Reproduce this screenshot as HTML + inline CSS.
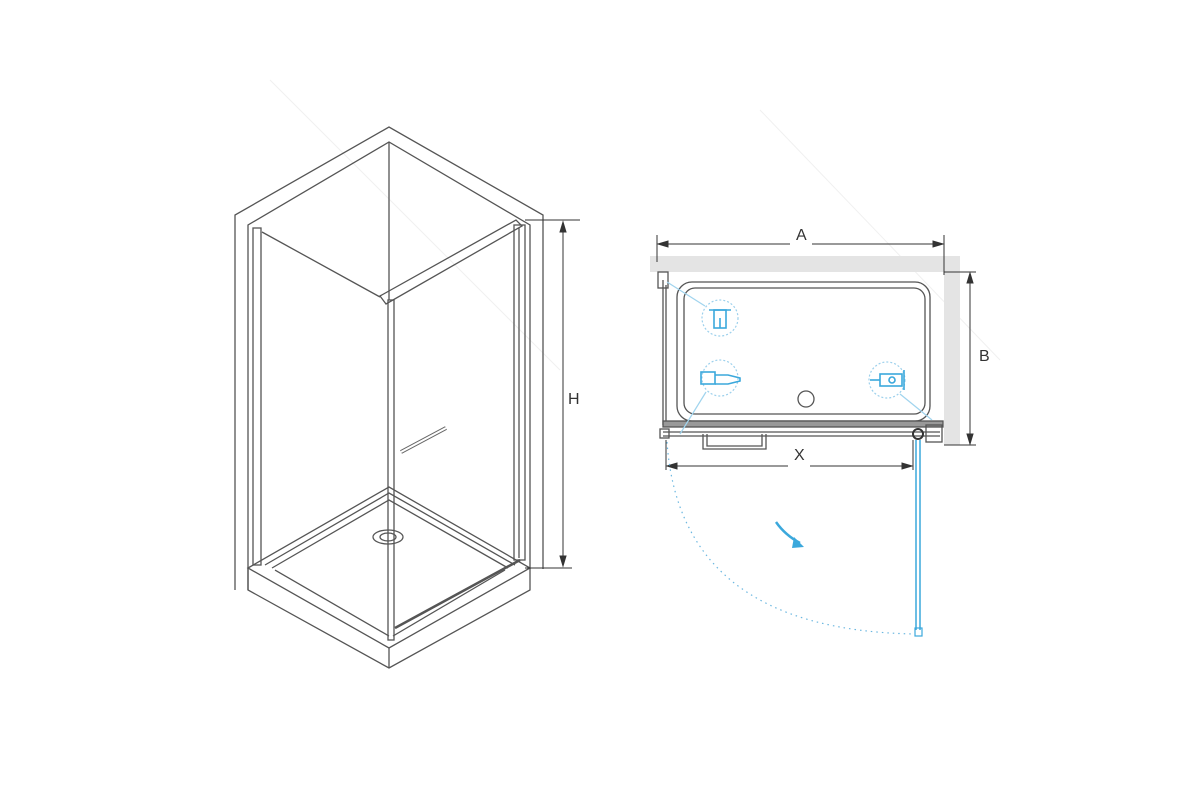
<!DOCTYPE html>
<html><head><meta charset="utf-8"><style>
html,body{margin:0;padding:0;background:#fff;width:1200px;height:800px;overflow:hidden}
svg{display:block}
text{font-family:"Liberation Sans",sans-serif;fill:#333}
</style></head><body>
<svg width="1200" height="800" viewBox="0 0 1200 800" xmlns="http://www.w3.org/2000/svg">
<g stroke="#f0f0f0" stroke-width="1" fill="none">
<line x1="270" y1="80" x2="560" y2="370"/><line x1="760" y1="110" x2="1000" y2="360"/>
</g>
<!-- LEFT ISOMETRIC -->
<g fill="none" stroke="#555" stroke-width="1.3">
<!-- walls -->
<polyline points="235,590 235,215 389,127 543,215 543,569"/>
<polyline points="248,590 248,225 389,142 530,225 530,569"/>
<line x1="389" y1="142" x2="389" y2="300"/>
<!-- tray -->
<polygon points="248,568 389,487 530,568 389,648"/>
<polyline points="248,568 248,590 389,668 530,590 530,568"/>
<line x1="389" y1="648" x2="389" y2="668"/>
<polyline points="265,565 389,493 515,565"/>
<polyline points="272,568 389,500 508,568"/>
<line x1="275" y1="570" x2="389" y2="636"/>
<line x1="505" y1="570" x2="393" y2="636"/>
<ellipse cx="388" cy="537" rx="15" ry="7"/><ellipse cx="388" cy="537" rx="8" ry="4"/>
<!-- left glass frame -->
<rect x="253" y="228" width="8" height="337"/>
<line x1="262" y1="232" x2="380" y2="297"/>
<!-- door -->
<rect x="388" y="300" width="6" height="340"/>
<polygon points="380,296 516,220 522,226 386,304"/>
<rect x="514" y="225" width="11" height="335"/>
<line x1="519" y1="228" x2="519" y2="558"/>
<line x1="395" y1="628" x2="520" y2="560" stroke-width="2.5"/>
<line x1="401" y1="452" x2="446" y2="428" stroke-width="4" stroke="#666"/>
<line x1="401" y1="452" x2="446" y2="428" stroke-width="2" stroke="#fff"/>
</g>
<!-- H dimension -->
<g stroke="#333" stroke-width="1" fill="#333">
<line x1="525" y1="220" x2="580" y2="220"/><line x1="525" y1="568" x2="572" y2="568"/>
<line x1="563" y1="224" x2="563" y2="565"/>
<polygon points="563,222 560,232 566,232"/><polygon points="563,566 560,556 566,556"/>
</g>
<text x="568" y="404" font-size="16">H</text>
<!-- RIGHT PLAN -->
<rect x="650" y="256" width="310" height="16" fill="#e4e4e4"/>
<rect x="944" y="272" width="16" height="173" fill="#e4e4e4"/>
<g stroke="#333" stroke-width="1" fill="#333">
<line x1="657" y1="235" x2="657" y2="262"/><line x1="944" y1="235" x2="944" y2="275"/>
<line x1="660" y1="244" x2="790" y2="244"/><line x1="812" y1="244" x2="941" y2="244"/>
<polygon points="658,244 668,241 668,247"/><polygon points="943,244 933,241 933,247"/>
<line x1="944" y1="272" x2="976" y2="272"/><line x1="944" y1="445" x2="976" y2="445"/>
<line x1="970" y1="275" x2="970" y2="442"/>
<polygon points="970,273 967,283 973,283"/><polygon points="970,444 967,434 973,434"/>
<line x1="666" y1="440" x2="666" y2="470"/><line x1="913" y1="440" x2="913" y2="470"/>
<line x1="668" y1="466" x2="788" y2="466"/><line x1="810" y1="466" x2="911" y2="466"/>
<polygon points="667,466 677,463 677,469"/><polygon points="912,466 902,463 902,469"/>
</g>
<text x="796" y="240" font-size="16">A</text>
<text x="979" y="361" font-size="16">B</text>
<text x="794" y="460" font-size="16">X</text>
<g fill="none" stroke="#555" stroke-width="1.3">
<rect x="677" y="282" width="253" height="139" rx="15"/>
<rect x="684" y="288" width="241" height="126" rx="11"/>
<circle cx="806" cy="399" r="8"/>
<line x1="663" y1="280" x2="663" y2="425"/><line x1="666" y1="285" x2="666" y2="425"/>
<rect x="658" y="272" width="10" height="16"/>
<rect x="663" y="421" width="280" height="6" fill="#999"/>
<line x1="663" y1="432" x2="940" y2="432"/><line x1="663" y1="436" x2="940" y2="436"/>
<rect x="660" y="429" width="9" height="9"/>
<polyline points="703,434 703,449 766,449 766,434"/>
<polyline points="707,434 707,446 762,446 762,434"/>
<rect x="926" y="425" width="16" height="17"/>
</g>
<g fill="none" stroke="#3ba8dc" stroke-width="1.2">
<circle cx="918" cy="434" r="5" stroke="#333" stroke-width="2"/>
<line x1="916" y1="440" x2="916" y2="630" stroke-width="1.5"/><line x1="920" y1="440" x2="920" y2="630" stroke-width="1.5"/>
<rect x="915" y="628" width="7" height="8"/>
<path d="M667,442 Q680,630 915,634" stroke-dasharray="1.5,4" stroke="#6bb7e0"/>
<path d="M776,522 Q785,535 800,543" stroke-width="2.5"/>
<g stroke="#9cd0ec" stroke-dasharray="2,2">
<circle cx="720" cy="318" r="18"/><circle cx="720" cy="378" r="18"/><circle cx="887" cy="380" r="18"/>
</g>
<g stroke="#a0d4ee"><line x1="667" y1="282" x2="705" y2="306"/><line x1="706" y1="392" x2="680" y2="434"/><line x1="900" y1="394" x2="932" y2="420"/></g>
<g stroke-width="1.6">
<rect x="714" y="310" width="12" height="18"/><line x1="720" y1="318" x2="720" y2="328"/><line x1="709" y1="310" x2="731" y2="310"/>
<rect x="701" y="372" width="14" height="12"/><polyline points="715,375 728,375 740,378 740,381 728,384 715,384"/>
<rect x="880" y="374" width="22" height="12"/><circle cx="892" cy="380" r="3"/><line x1="870" y1="380" x2="880" y2="380"/><line x1="904" y1="370" x2="904" y2="390"/>
</g>
</g>
<polygon points="794,537 804,547 792,548" fill="#3ba8dc"/>
</svg>
</body></html>
